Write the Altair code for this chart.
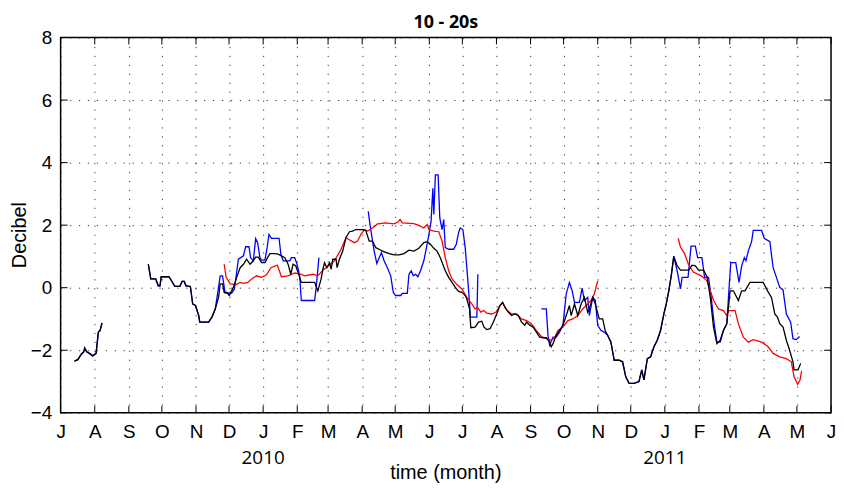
import altair as alt
import pandas as pd

# ---- data (day = days after 1 Jul 2009, db = Decibel) ----
START = pd.Timestamp("2009-07-01")

# Jul-Aug 2009, blue and black coincide
shared_a_day = [12.6, 15.6, 18.7, 21.0, 21.9, 23.7, 26.2, 29.2, 32.2, 34.3, 35.8, 37.6]
shared_a_db = [-2.35, -2.3, -2.13, -2.05, -1.93, -2.05, -2.1, -2.18, -2.1, -1.42, -1.37, -1.13]

# Sep-Nov 2009, blue and black coincide
shared_b_day = [79.7, 81.9, 86.4, 88.7, 90.3, 91.4, 98.4, 100.8, 103.8, 108.3, 110.4, 112.2,
                114.0, 117.9, 120.0, 122.5, 125.5, 126.4, 134.5, 137.5, 140.5]
shared_b_db = [0.75, 0.28, 0.28, 0.06, 0.06, 0.35, 0.35, 0.22, 0.04, 0.04, 0.2, 0.2,
               0.06, 0.04, -0.52, -0.57, -0.89, -1.1, -1.1, -0.94, -0.68]

# Dec 2010 - Jan 2011, blue and black coincide
shared_c_day = [497.0, 500.0, 503.0, 507.5, 510.6, 513.5, 516.5, 521.0, 525.5, 528.0, 530.0,
                533.1, 536.1, 539.1, 542.1, 545.1, 548.1, 550.3, 552.6, 555.0, 557.1]
shared_c_db = [-1.52, -1.74, -2.32, -2.32, -2.37, -2.85, -3.06, -3.06, -3.0, -2.63, -2.95,
               -2.27, -2.21, -1.89, -1.68, -1.37, -0.84, -0.52, -0.1, 0.43, 1.0]

black_1_day = [143.5, 145.0, 147.1, 148.6, 151.0, 153.2, 157.0, 160.0, 163.1, 166.1, 169.0, 172.1,
               175.1, 177.2, 179.6, 182.6, 185.6, 188.0, 190.2, 194.7, 197.7, 200.6, 203.7, 206.7,
               209.1, 211.2, 213.6, 215.7, 218.7, 230.8, 233.7, 236.7, 238.3, 239.8, 241.9, 244.3,
               245.8, 247.3, 250.3, 251.2, 253.3, 256.3, 259.3, 262.4, 265.3, 268.3, 274.4, 277.3,
               280.4, 283.4, 286.4, 289.4, 292.4, 298.5, 303.0, 307.5, 312.0, 316.5, 321.0, 325.5,
               330.0, 333.0, 336.0, 339.1, 342.0, 345.0, 349.5, 352.6, 355.6, 358.6, 361.6, 364.6,
               367.6, 369.1, 371.6, 372.7, 376.6, 379.7, 382.7, 384.7, 387.2, 390.2, 393.2, 396.2,
               399.2, 401.6, 403.7, 406.8, 409.7, 412.7, 415.8, 418.8, 421.7, 423.3, 426.2, 429.3,
               432.3, 435.3, 438.3, 441.3, 444.3, 445.8, 447.4, 450.3, 453.3, 456.4, 459.4, 462.3,
               463.9, 466.9, 469.9, 472.9, 475.9, 478.9, 480.4, 483.5, 485.8, 489.4, 492.5, 494.8]
black_1_db = [-0.31, 0.12, 0.12, -0.15, -0.15, -0.25, 0.01, 0.33, 0.64, 0.75, 0.91, 0.75,
              0.86, 0.98, 0.98, 0.8, 0.8, 0.96, 1.09, 1.09, 1.07, 1.02, 0.96, 0.75,
              0.43, 0.75, 0.7, 0.49, 0.17, 0.17, -0.1, 0.28, 0.59, 0.8, 0.64, 0.8,
              0.59, 0.91, 0.91, 0.64, 0.91, 1.17, 1.6, 1.79, 1.81, 1.86, 1.86, 1.83,
              1.49, 1.49, 1.28, 1.23, 1.17, 1.09, 1.05, 1.05, 1.09, 1.2, 1.17, 1.26,
              1.44, 1.47, 1.39, 1.26, 1.17, 0.96, 0.54, 0.33, 0.17, 0.01, -0.12, -0.15,
              -0.25, -0.36, -0.68, -1.28, -1.26, -1.1, -1.07, -1.26, -1.34, -1.31, -1.1, -0.84,
              -0.57, -0.47, -0.63, -0.78, -0.89, -0.84, -0.89, -1.1, -1.2, -1.1, -1.2, -1.26,
              -1.42, -1.58, -1.6, -1.6, -1.74, -1.89, -1.79, -1.52, -1.37, -1.2, -0.89, -0.57,
              -0.89, -0.52, -0.89, -0.52, -0.31, -0.78, -0.68, -0.31, -0.52, -1.0, -1.0, -1.37]

black_2_day = [560.2, 563.2, 570.7, 573.7, 576.7, 579.7, 584.2, 587.3, 590.3, 593.2, 596.3, 599.3,
               602.2, 605.3, 608.3, 611.3, 615.8, 618.8, 621.8, 626.3, 638.3, 642.3, 645.9, 648.9,
               651.3, 653.4, 656.4, 659.4, 662.4, 665.4, 666.4, 670.0, 672.4]
black_2_db = [0.7, 0.56, 0.56, 0.72, 0.7, 0.56, 0.56, 0.35, -0.31, -1.26, -1.79, -1.68,
              -1.37, -1.15, -0.1, -0.1, -0.41, -0.1, -0.1, 0.17, 0.17, -0.1, -0.31, -0.84,
              -0.94, -1.15, -1.26, -1.68, -2.0, -2.37, -2.63, -2.63, -2.42]

blue_1_day = [142.6, 145.0, 147.1, 149.5, 155.5, 157.9, 160.9, 161.5, 166.1, 168.1, 171.2, 172.6,
              175.1, 177.2, 179.0, 181.1, 182.6, 185.6, 187.4, 189.3, 191.6, 198.5, 200.1, 202.2,
              208.2, 209.7, 212.7, 214.8, 217.2, 218.7, 230.8, 232.2, 234.7]
blue_1_db = [-0.2, 0.38, 0.38, -0.17, -0.17, -0.04, 0.75, 0.91, 1.02, 1.31, 1.31, 0.96,
             0.86, 1.57, 1.44, 0.96, 0.88, 0.88, 1.23, 1.7, 1.58, 1.58, 1.07, 0.86,
             0.86, 0.96, 0.96, 0.75, 0.38, -0.41, -0.41, 0.01, 0.96]

blue_2_day = [279.5, 281.3, 283.4, 284.9, 287.3, 289.4, 291.5, 293.9, 296.9, 299.9, 302.3, 304.4,
              308.9, 310.5, 315.0, 316.5, 318.6, 320.4, 322.5, 324.6, 327.0, 330.0, 332.4, 334.6,
              336.6, 338.2, 339.1, 340.5, 343.0, 344.5, 346.6, 348.1, 349.5, 352.6, 357.1, 359.5,
              361.6, 363.1, 365.5, 367.6, 369.8, 371.6, 372.1, 378.2, 379.1]
blue_2_db = [2.44, 1.97, 1.49, 1.17, 0.77, 0.96, 1.12, 0.86, 0.64, 0.38, -0.15, -0.25,
             -0.25, -0.18, -0.18, 0.43, 0.54, 0.38, 0.43, 0.35, 0.54, 0.86, 1.28, 1.7,
             2.13, 3.18, 2.34, 3.61, 3.61, 2.23, 1.86, 2.18, 1.28, 1.23, 1.23, 1.39,
             1.76, 1.91, 1.86, 1.28, 0.33, -0.52, -0.94, -0.94, 0.43]

blue_3_day = [436.8, 441.3, 442.8, 444.3, 447.4, 450.3, 453.3, 456.4, 459.4, 462.3, 464.8, 466.9,
              471.4, 473.8, 475.9, 478.9, 480.4, 483.5, 485.8, 488.0, 491.0, 494.0]
blue_3_db = [-0.68, -0.68, -1.52, -1.84, -1.58, -1.58, -1.42, -1.2, -0.2, 0.17, -0.1, -0.47,
             -0.47, -0.01, -0.41, -0.31, -0.89, -0.31, -0.4, -1.2, -1.37, -1.42]

blue_4_day = [560.2, 563.2, 564.7, 570.1, 572.8, 576.7, 578.8, 582.7, 585.1, 588.7, 591.1, 593.8,
              596.3, 599.3, 602.2, 605.3, 607.7, 608.9, 613.4, 616.4, 618.8, 621.2, 622.7, 624.8,
              627.9, 629.3, 636.9, 639.3, 644.4, 647.4, 650.4, 653.4, 656.4, 659.4, 663.3, 665.4,
              668.4, 671.4]
blue_4_db = [0.54, -0.04, 0.33, 0.33, 1.33, 1.33, 0.96, 0.96, 0.33, 0.33, -0.31, -1.15,
             -1.74, -1.74, -1.37, -1.15, 0.17, 0.8, 0.8, 0.17, 0.7, 0.96, 0.86, 1.17,
             1.49, 1.83, 1.83, 1.58, 1.47, 0.64, 0.33, 0.01, -0.07, -0.84, -1.1, -1.63,
             -1.66, -1.56]

red_1_day = [148.6, 150.4, 154.1, 159.5, 163.1, 166.1, 170.0, 173.5, 178.1, 182.6, 187.1, 191.1,
             195.2, 197.0, 200.6, 206.7, 212.7, 218.7, 221.7, 229.2, 233.7, 238.3, 241.2, 248.8,
             254.8, 259.3, 261.5, 266.9, 269.8, 272.8, 275.9, 278.9, 283.4, 287.9, 295.4, 303.0,
             306.6, 308.4, 310.5, 321.0, 325.5, 330.0, 333.0, 334.6, 339.1, 343.6, 346.6, 349.5,
             352.6, 355.6, 360.1, 364.6, 369.1, 373.6, 376.6, 378.8, 381.8, 384.2, 387.2, 391.7,
             395.6, 399.2, 401.6, 405.2, 409.7, 414.2, 418.8, 423.3, 427.8, 432.3, 436.8, 441.3,
             445.8, 448.8, 451.9, 456.4, 460.9, 465.4, 469.9, 474.4, 478.9, 481.9, 484.9, 488.0]
red_1_db = [0.75, 0.33, 0.12, 0.1, 0.17, 0.14, 0.17, 0.28, 0.38, 0.33, 0.41, 0.64,
            0.7, 0.72, 0.35, 0.38, 0.47, 0.43, 0.38, 0.43, 0.38, 0.56, 0.64, 0.86,
            1.23, 1.6, 1.55, 1.44, 1.49, 1.7, 1.86, 1.81, 1.91, 2.04, 2.07, 2.04,
            2.1, 2.18, 2.07, 2.05, 1.99, 1.91, 2.02, 1.86, 1.81, 1.79, 1.49, 0.96,
            0.54, 0.28, 0.1, -0.04, -0.31, -0.52, -0.68, -0.63, -0.78, -0.73, -0.81, -0.84,
            -0.78, -0.57, -0.47, -0.71, -0.84, -0.84, -1.0, -1.05, -1.15, -1.37, -1.56, -1.63,
            -1.68, -1.6, -1.37, -1.26, -1.05, -1.0, -0.89, -0.68, -0.52, -0.41, -0.2, 0.22]

red_2_day = [561.1, 563.2, 566.8, 570.4, 574.9, 582.1, 587.3, 590.3, 593.2, 597.7, 602.2, 605.3,
             606.7, 612.8, 615.8, 620.3, 624.8, 629.3, 636.9, 642.9, 647.4, 653.4, 659.4, 663.9,
             666.4, 669.7, 671.8, 673.3]
red_2_db = [1.58, 1.3, 1.1, 0.75, 0.5, 0.38, 0.22, -0.1, -0.4, -0.68, -0.73, -0.89,
            -0.73, -0.73, -1.15, -1.58, -1.74, -1.66, -1.74, -1.89, -2.1, -2.21, -2.27, -2.37,
            -2.85, -3.09, -2.95, -2.66]

month_ticks = pd.date_range("2009-07-01", "2011-06-01", freq="MS")
y_ticks = [-4, -2, 0, 2, 4, 6, 8]
years = ["2010", "2011"]
year_dates = ["2010-01-01", "2011-01-01"]

# ---- build tables ----
def frame(series, segments):
    rows = []
    for k, (days, vals) in enumerate(segments):
        for d, v in zip(days, vals):
            rows.append({"series": series, "seg": f"{series}{k}",
                         "date": START + pd.Timedelta(days=d), "db": v})
    return pd.DataFrame(rows)

blue_df = frame("blue", [(shared_a_day, shared_a_db),
                         (shared_b_day + blue_1_day, shared_b_db + blue_1_db),
                         (blue_2_day, blue_2_db),
                         (blue_3_day + shared_c_day + blue_4_day, blue_3_db + shared_c_db + blue_4_db)])
red_df = frame("red", [(red_1_day, red_1_db), (red_2_day, red_2_db)])
black_df = frame("black", [(shared_a_day, shared_a_db),
                           (shared_b_day + black_1_day + shared_c_day + black_2_day,
                            shared_b_db + black_1_db + shared_c_db + black_2_db)])

W, H = 776, 378
FONT = "Liberation Sans"

x_scale = alt.Scale(domain=[alt.DateTime(year=2009, month=7, date=1),
                            alt.DateTime(year=2011, month=6, date=1)])
y_scale = alt.Scale(domain=[-4, 8], nice=False, zero=False)

x_axis = alt.Axis(values=[alt.DateTime(year=int(t.year), month=int(t.month), date=1) for t in month_ticks],
                  labelExpr="slice(timeFormat(datum.value, '%B'), 0, 1)",
                  labelFlush=False, labelOverlap=False, ticks=False, domain=False,
                  grid=True, gridDash=[1.2, 7.8], gridColor="#333333", gridWidth=1,
                  labelFont=FONT, labelFontSize=19, labelColor="black", labelPadding=10,
                  title=None)
y_axis = alt.Axis(values=y_ticks, ticks=False, domain=False,
                  grid=True, gridDash=[1.2, 7.8], gridColor="#333333", gridWidth=1,
                  labelFont=FONT, labelFontSize=19, labelColor="black", labelPadding=9,
                  labelFlush=False, title=None)

X = lambda field: alt.X(field, scale=x_scale, axis=x_axis)
Y = lambda field: alt.Y(field, scale=y_scale, axis=y_axis)

def line_layer(df, color):
    return alt.Chart(df).mark_line(color=color, strokeWidth=1.3, clip=True).encode(
        x=X("date:T"), y=Y("db:Q"), detail="seg:N", order="date:T")

tick_df = pd.DataFrame({"date": month_ticks})
ytick_df = pd.DataFrame({"v": y_ticks})
TL = 7
bottom_ticks = alt.Chart(tick_df).mark_rule(color="black", strokeWidth=1).encode(
    x=X("date:T"), y=alt.value(H), y2=alt.value(H - TL))
top_ticks = alt.Chart(tick_df).mark_rule(color="black", strokeWidth=1).encode(
    x=X("date:T"), y=alt.value(0), y2=alt.value(TL))
left_ticks = alt.Chart(ytick_df).mark_rule(color="black", strokeWidth=1).encode(
    y=Y("v:Q"), x=alt.value(0), x2=alt.value(TL))
right_ticks = alt.Chart(ytick_df).mark_rule(color="black", strokeWidth=1).encode(
    y=Y("v:Q"), x=alt.value(W - TL), x2=alt.value(W))

year_df = pd.DataFrame({"year": years, "date": pd.to_datetime(year_dates)})
year_text = alt.Chart(year_df).mark_text(font="Open Sans", fontSize=19, baseline="middle",
                                          color="black").encode(
    x=X("date:T"), y=alt.value(H + 46), text="year:N")

title_text = alt.Chart(pd.DataFrame({"t": ["10 - 20s"]})).mark_text(
    font="Open Sans", fontSize=18, fontWeight="bold", baseline="middle", color="black").encode(
    x=alt.value(W / 2), y=alt.value(-15), text="t:N")
xtitle_text = alt.Chart(pd.DataFrame({"t": ["time (month)"]})).mark_text(
    font=FONT, fontSize=20, baseline="middle", color="black").encode(
    x=alt.value(W / 2), y=alt.value(H + 61), text="t:N")
ytitle_text = alt.Chart(pd.DataFrame({"t": ["Decibel"]})).mark_text(
    font=FONT, fontSize=20, baseline="middle", angle=270, color="black").encode(
    x=alt.value(-41), y=alt.value(199), text="t:N")

chart = alt.layer(
    line_layer(blue_df, "#0000ff"),
    line_layer(red_df, "#ff0000"),
    line_layer(black_df, "#000000"),
    bottom_ticks, top_ticks, left_ticks, right_ticks,
    year_text, title_text, xtitle_text, ytitle_text,
).properties(
    width=W, height=H,
    padding={"left": 53, "top": 28, "right": 5, "bottom": 70},
    autosize=alt.AutoSizeParams(type="none"),
    background="white",
).configure_view(stroke="black", strokeWidth=1.5)

chart.save("out.html", embed_options={"renderer": "svg", "actions": False})
